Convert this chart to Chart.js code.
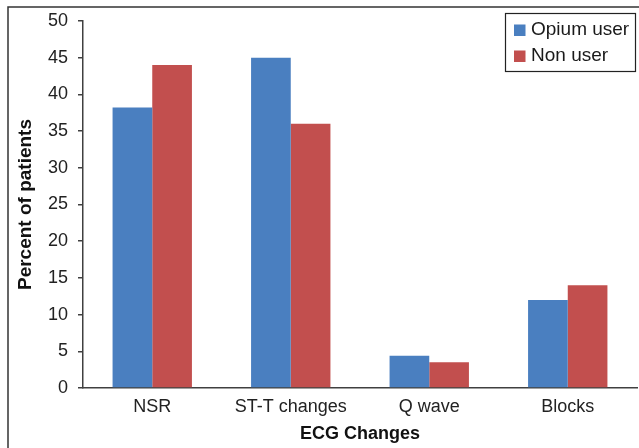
<!DOCTYPE html>
<html>
<head>
<meta charset="utf-8">
<script src="https://cdn.jsdelivr.net/npm/chart.js@4.4.1/dist/chart.umd.min.js"></script>
<style>
  html, body { margin: 0; padding: 0; background: #fff; }
  #wrap { position: relative; width: 639px; height: 448px; }
</style>
</head>
<body>
<div id="wrap"><canvas id="chart" width="639" height="448"></canvas></div>
<script>
const categories = ['NSR', 'ST-T changes', 'Q wave', 'Blocks'];
const opiumUser = [38.2, 45, 4.4, 12];
const nonUser = [44, 36, 3.5, 14];
const seriesNames = ['Opium user', 'Non user'];
const seriesColors = ['#4a7fc0', '#c24f4e'];

const FONT = "'Liberation Sans', Arial, Helvetica, sans-serif";

// outer frame + boxed legend in the top right corner
const framePlugin = {
    id: 'frameAndLegend',
    beforeDraw(chart) {
        const ctx = chart.ctx;
        ctx.save();
        ctx.strokeStyle = '#333';
        ctx.lineWidth = 1.5;
        ctx.beginPath();
        ctx.moveTo(8, 448);
        ctx.lineTo(8, 7);
        ctx.lineTo(639, 7);
        ctx.stroke();
        ctx.restore();
    },
    afterDraw(chart) {
        const ctx = chart.ctx;
        ctx.save();
        ctx.strokeStyle = '#222';
        ctx.lineWidth = 1.2;
        ctx.strokeRect(505.5, 13.5, 130, 58);
        ctx.font = '19px ' + FONT;
        ctx.textBaseline = 'middle';
        chart.data.datasets.forEach((ds, i) => {
            const y = 30 + i * 26;
            ctx.fillStyle = ds.backgroundColor;
            ctx.fillRect(514, y - 5.5, 11.5, 11.5);
            ctx.fillStyle = '#1a1a1a';
            ctx.fillText(ds.label, 531, y);
        });
        ctx.restore();
    }
};

new Chart(document.getElementById('chart'), {
    type: 'bar',
    data: {
        labels: categories,
        datasets: [
            { label: seriesNames[0], data: opiumUser, backgroundColor: seriesColors[0], borderWidth: 0 },
            { label: seriesNames[1], data: nonUser, backgroundColor: seriesColors[1], borderWidth: 0 }
        ]
    },
    options: {
        responsive: false,
        animation: false,
        devicePixelRatio: 1,
        layout: { padding: { top: 21, right: 2, left: 0, bottom: 0 } },
        datasets: { bar: { categoryPercentage: 0.573, barPercentage: 1.0 } },
        plugins: {
            legend: { display: false },
            tooltip: { enabled: false }
        },
        scales: {
            x: {
                grid: { display: false, drawTicks: false },
                border: { display: true, color: '#404040', width: 1.5 },
                ticks: { color: '#222', padding: 8, font: { family: FONT, size: 18 } },
                title: {
                    display: true,
                    text: 'ECG Changes',
                    color: '#111',
                    padding: { top: 0, bottom: 3 },
                    font: { family: FONT, size: 18, weight: 'bold' }
                },
                afterFit(scale) { scale.height = 60; }
            },
            y: {
                min: 0,
                max: 50,
                ticks: { stepSize: 5, color: '#222', padding: 10, font: { family: FONT, size: 18 } },
                grid: { drawOnChartArea: false, drawTicks: true, tickLength: 5, color: '#404040', lineWidth: 1.5 },
                border: { display: true, color: '#404040', width: 1.5 },
                title: {
                    display: true,
                    text: 'Percent of patients',
                    color: '#111',
                    padding: { top: 14, bottom: 0 },
                    font: { family: FONT, size: 19, weight: 'bold' }
                },
                afterFit(scale) { scale.width = 83; }
            }
        }
    },
    plugins: [framePlugin]
});
</script>
</body>
</html>
